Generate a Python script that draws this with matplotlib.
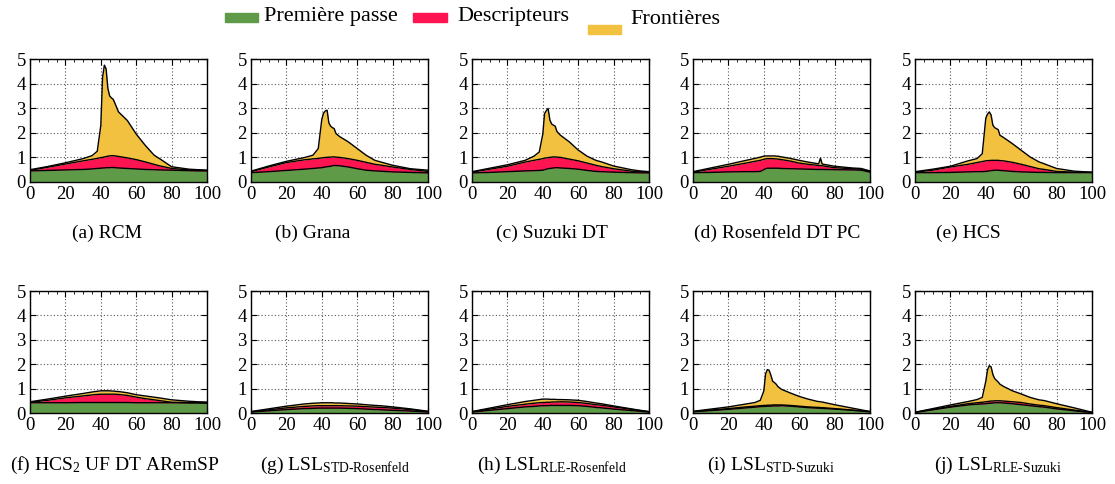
import numpy as np
import matplotlib
matplotlib.use("Agg")
import matplotlib.pyplot as plt
from matplotlib.patches import Rectangle
from matplotlib.ticker import MultipleLocator

plt.rcParams["font.family"] = ["Liberation Serif", "DejaVu Serif"]
plt.rcParams["mathtext.fontset"] = "custom"
plt.rcParams["mathtext.rm"] = "Liberation Serif"
plt.rcParams["mathtext.it"] = "Liberation Serif:italic"

# Percentage of foreground pixels
x = [0, 10, 20, 30, 35, 38, 40, 41, 42, 43, 44, 45, 46, 47, 48, 50,
     55, 60, 65, 70, 71, 72, 73, 80, 90, 95, 100]

# Cumulative times (ms): first pass, + descriptors, + borders
rcm_pass = [0.45,0.47,0.49,0.51,0.53,0.55,0.56,0.57,0.57,0.58,0.58,0.58,0.59,0.59,0.58,0.57,0.55,0.53,0.51,0.50,0.50,0.49,0.49,0.48,0.46,0.45,0.45]
rcm_desc = [0.47,0.60,0.73,0.86,0.92,0.96,0.99,1.00,1.02,1.03,1.05,1.06,1.07,1.07,1.06,1.04,0.98,0.91,0.82,0.72,0.70,0.68,0.66,0.55,0.49,0.48,0.47]
rcm_front = [0.50,0.63,0.78,0.95,1.07,1.25,2.30,4.25,4.75,4.60,3.80,3.50,3.42,3.36,3.20,2.85,2.50,1.95,1.50,1.10,1.05,1.00,0.96,0.62,0.52,0.50,0.48]

grana_pass = [0.38,0.42,0.47,0.52,0.55,0.57,0.58,0.60,0.61,0.62,0.63,0.64,0.66,0.67,0.67,0.66,0.61,0.54,0.48,0.45,0.45,0.44,0.44,0.41,0.39,0.38,0.37]
grana_desc = [0.42,0.61,0.79,0.90,0.94,0.96,0.98,0.99,1.00,1.00,1.01,1.01,1.02,1.02,1.01,1.00,0.95,0.88,0.80,0.72,0.71,0.70,0.69,0.61,0.51,0.47,0.43]
grana_front = [0.44,0.65,0.84,0.99,1.09,1.36,2.55,2.80,2.89,2.92,2.40,2.27,2.21,2.17,1.97,1.85,1.63,1.36,1.09,0.88,0.86,0.84,0.82,0.68,0.54,0.51,0.48]

suzuki_pass = [0.37,0.39,0.42,0.45,0.46,0.47,0.48,0.50,0.52,0.54,0.55,0.56,0.57,0.58,0.58,0.57,0.55,0.52,0.47,0.43,0.43,0.42,0.42,0.40,0.38,0.37,0.37]
suzuki_desc = [0.40,0.52,0.64,0.81,0.88,0.92,0.95,0.97,0.98,0.99,1.00,1.01,1.02,1.02,1.01,1.00,0.93,0.86,0.77,0.68,0.66,0.65,0.63,0.54,0.44,0.42,0.40]
suzuki_front = [0.42,0.56,0.70,0.88,1.05,1.22,1.95,2.78,2.90,2.99,2.52,2.36,2.31,2.27,2.05,1.90,1.63,1.30,1.05,0.88,0.86,0.84,0.82,0.65,0.50,0.45,0.42]

rosen_pass = [0.38,0.39,0.41,0.42,0.42,0.43,0.50,0.54,0.56,0.56,0.56,0.56,0.56,0.56,0.56,0.55,0.54,0.53,0.52,0.51,0.51,0.51,0.51,0.50,0.49,0.48,0.40]
rosen_desc = [0.40,0.52,0.64,0.77,0.84,0.88,0.92,0.94,0.95,0.95,0.95,0.95,0.94,0.94,0.93,0.91,0.85,0.77,0.72,0.68,0.67,0.67,0.66,0.58,0.54,0.52,0.43]
rosen_front = [0.42,0.57,0.72,0.88,0.96,1.01,1.05,1.06,1.06,1.06,1.06,1.06,1.06,1.05,1.05,1.02,0.96,0.88,0.81,0.75,0.74,0.97,0.73,0.64,0.57,0.55,0.45]

hcs_pass = [0.38,0.38,0.39,0.41,0.42,0.42,0.43,0.44,0.45,0.46,0.47,0.48,0.48,0.48,0.47,0.46,0.43,0.41,0.40,0.39,0.39,0.39,0.39,0.38,0.38,0.38,0.38]
hcs_desc = [0.40,0.48,0.61,0.72,0.79,0.83,0.86,0.87,0.87,0.88,0.88,0.88,0.88,0.88,0.87,0.86,0.80,0.72,0.63,0.54,0.53,0.52,0.51,0.43,0.40,0.40,0.39]
hcs_front = [0.42,0.52,0.64,0.86,0.95,1.15,2.60,2.76,2.85,2.72,2.31,2.21,2.17,2.13,1.90,1.81,1.56,1.29,1.02,0.82,0.79,0.77,0.74,0.55,0.44,0.42,0.40]

hcs2_pass = [0.42,0.42,0.42,0.43,0.43,0.43,0.43,0.43,0.43,0.43,0.43,0.43,0.43,0.43,0.43,0.43,0.43,0.42,0.42,0.42,0.42,0.42,0.42,0.42,0.41,0.41,0.40]
hcs2_desc = [0.44,0.52,0.62,0.70,0.74,0.76,0.77,0.77,0.77,0.77,0.77,0.77,0.77,0.77,0.77,0.76,0.72,0.65,0.59,0.54,0.53,0.52,0.51,0.44,0.43,0.42,0.41]
hcs2_front = [0.46,0.57,0.69,0.80,0.86,0.89,0.91,0.91,0.91,0.91,0.91,0.91,0.90,0.90,0.89,0.88,0.83,0.75,0.70,0.65,0.64,0.63,0.62,0.54,0.48,0.46,0.45]

lslsr_pass = [0.04,0.09,0.14,0.18,0.19,0.20,0.20,0.20,0.20,0.20,0.20,0.20,0.20,0.20,0.20,0.20,0.19,0.18,0.16,0.14,0.14,0.14,0.13,0.11,0.08,0.06,0.04]
lslsr_desc = [0.05,0.13,0.21,0.27,0.29,0.30,0.30,0.30,0.30,0.30,0.30,0.30,0.30,0.30,0.30,0.30,0.29,0.28,0.26,0.24,0.24,0.23,0.23,0.20,0.14,0.10,0.06]
lslsr_front = [0.06,0.17,0.28,0.37,0.40,0.41,0.42,0.42,0.42,0.42,0.42,0.42,0.42,0.41,0.41,0.41,0.39,0.37,0.34,0.31,0.31,0.30,0.30,0.25,0.17,0.12,0.07]

lslrr_pass = [0.04,0.11,0.18,0.25,0.27,0.29,0.30,0.30,0.30,0.30,0.31,0.31,0.31,0.31,0.31,0.31,0.31,0.30,0.27,0.23,0.22,0.22,0.21,0.16,0.10,0.07,0.04]
lslrr_desc = [0.05,0.16,0.27,0.36,0.40,0.42,0.43,0.43,0.44,0.44,0.44,0.45,0.45,0.45,0.45,0.46,0.45,0.43,0.39,0.34,0.33,0.33,0.32,0.25,0.15,0.10,0.05]
lslrr_front = [0.06,0.20,0.34,0.47,0.52,0.55,0.57,0.57,0.57,0.57,0.56,0.56,0.56,0.56,0.55,0.55,0.54,0.52,0.47,0.41,0.40,0.39,0.38,0.29,0.17,0.11,0.06]

lslss_pass = [0.05,0.10,0.15,0.21,0.24,0.26,0.27,0.27,0.28,0.28,0.28,0.29,0.29,0.29,0.29,0.30,0.28,0.25,0.22,0.20,0.20,0.19,0.19,0.16,0.11,0.08,0.05]
lslss_desc = [0.06,0.12,0.18,0.25,0.28,0.30,0.31,0.31,0.32,0.32,0.32,0.33,0.33,0.33,0.33,0.33,0.31,0.28,0.25,0.23,0.23,0.22,0.22,0.18,0.12,0.09,0.06]
lslss_front = [0.07,0.16,0.25,0.37,0.43,0.52,0.90,1.60,1.78,1.75,1.55,1.30,1.25,1.18,1.08,0.97,0.82,0.68,0.57,0.48,0.47,0.46,0.45,0.34,0.20,0.13,0.06]

lslrs_pass = [0.02,0.13,0.24,0.33,0.36,0.37,0.38,0.39,0.40,0.40,0.41,0.42,0.42,0.42,0.42,0.41,0.38,0.34,0.30,0.26,0.25,0.25,0.24,0.17,0.09,0.05,0.02]
lslrs_desc = [0.03,0.15,0.27,0.38,0.42,0.44,0.46,0.47,0.48,0.49,0.49,0.50,0.50,0.50,0.50,0.49,0.46,0.43,0.37,0.32,0.31,0.31,0.30,0.22,0.12,0.07,0.03]
lslrs_front = [0.03,0.18,0.33,0.47,0.55,0.64,1.30,1.78,1.94,1.89,1.58,1.41,1.34,1.27,1.18,1.09,0.91,0.78,0.64,0.54,0.53,0.52,0.51,0.38,0.21,0.12,0.03]

captions = [
    "(a) RCM", "(b) Grana", "(c) Suzuki DT", "(d) Rosenfeld DT PC", "(e) HCS",
    "(f) HCS$_2$ UF DT ARemSP",
    "(g) LSL$_{\\mathrm{STD‐Rosenfeld}}$",
    "(h) LSL$_{\\mathrm{RLE‐Rosenfeld}}$",
    "(i) LSL$_{\\mathrm{STD‐Suzuki}}$",
    "(j) LSL$_{\\mathrm{RLE‐Suzuki}}$",
]
series = [
    (rcm_pass, rcm_desc, rcm_front),
    (grana_pass, grana_desc, grana_front),
    (suzuki_pass, suzuki_desc, suzuki_front),
    (rosen_pass, rosen_desc, rosen_front),
    (hcs_pass, hcs_desc, hcs_front),
    (hcs2_pass, hcs2_desc, hcs2_front),
    (lslsr_pass, lslsr_desc, lslsr_front),
    (lslrr_pass, lslrr_desc, lslrr_front),
    (lslss_pass, lslss_desc, lslss_front),
    (lslrs_pass, lslrs_desc, lslrs_front),
]
legend_labels = ["Première passe", "Descripteurs", "Frontières"]

GREEN = "#5e9a48"
RED = "#fd1451"
YELLOW = "#f1c13f"
colors = [GREEN, RED, YELLOW]

W, H = 1115, 484
fig = plt.figure(figsize=(W / 100, H / 100), dpi=100)

ax_left = [30, 251, 472, 693, 915]
ax_w = 177
rows = [(59, 182), (291, 413)]
cap_x = [[107, 313, 552, 777, 968], [115, 335, 552, 771, 998]]
cap_y = [233, 465]

xs = np.array(x, dtype=float)
for i, (cap, (p, d, f)) in enumerate(zip(captions, series)):
    r, c = divmod(i, 5)
    top, bot = rows[r]
    ax = fig.add_axes([ax_left[c] / W, 1 - bot / H, ax_w / W, (bot - top) / H])
    levels = [np.zeros_like(xs), np.array(p), np.array(d), np.array(f)]
    for k in range(3):
        ax.fill_between(xs, levels[k], levels[k + 1], color=colors[k],
                        linewidth=0, zorder=2)
    for k in range(1, 4):
        ax.plot(xs, levels[k], color="black", lw=1.0, zorder=3)
    ax.set_xlim(0, 100)
    ax.set_ylim(0, 5)
    ax.set_xticks(range(0, 101, 20))
    ax.set_yticks(range(0, 6))
    ax.xaxis.set_minor_locator(MultipleLocator(5))
    ax.set_axisbelow(True)
    ax.grid(True, which="major", linestyle=(0, (1, 2)), color="#555555", lw=0.8)
    ax.tick_params(which="both", direction="in", top=True, right=True,
                   labelsize=13.5, colors="black", pad=3)
    ax.tick_params(which="major", length=4, width=0.8)
    ax.tick_params(which="minor", length=2, width=0.6)
    for s in ax.spines.values():
        s.set_linewidth(1.0)
    fig.text(cap_x[r][c] / W, 1 - cap_y[r] / H, cap, ha="center", va="center",
             fontsize=14)

# Legend row
handles = [(225, 13, 33, 9), (413, 13, 34, 9), (588, 25, 33, 9)]
text_pos = [(264, 16), (457, 16), (630, 20)]
for (hx, hy, hw, hh), (tx, ty), col, lab in zip(handles, text_pos, colors, legend_labels):
    fig.patches.append(Rectangle((hx / W, 1 - (hy + hh) / H), hw / W, hh / H,
                                 transform=fig.transFigure, color=col))
    fig.text(tx / W, 1 - ty / H, lab, ha="left", va="center", fontsize=16)

fig.savefig("out.png", dpi=100)
